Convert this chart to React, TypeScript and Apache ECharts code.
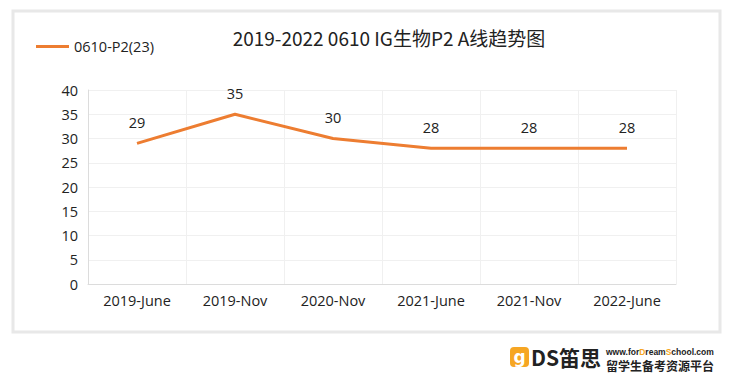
import React, { useEffect, useRef } from "react";
import * as echarts from "echarts";

const categories = ["2019-June", "2019-Nov", "2020-Nov", "2021-June", "2021-Nov", "2022-June"];
const seriesName = "0610-P2(23)";
const values = [29, 35, 30, 28, 28, 28];
const titleText = "2019-2022 0610 IG生物P2 A线趋势图";

export default function App() {
  const ref = useRef<HTMLDivElement>(null);
  useEffect(() => {
    document.body.style.margin = "0";
    const chart = echarts.init(ref.current!, null, { renderer: "svg" });
    const font = "'Open Sans', 'Noto Sans', sans-serif";
    chart.setOption({
      animation: false,
      backgroundColor: "#ffffff",
      title: {
        text: titleText,
        left: 384,
        top: 23,
        textAlign: "center",
        textStyle: { fontSize: 19, fontWeight: "normal", color: "#222", fontFamily: "'Noto Sans CJK SC', sans-serif" },
      },
      legend: {
        left: 31,
        top: 34,
        itemWidth: 33,
        itemHeight: 3,
        icon: "rect",
        itemGap: 6,
        itemStyle: { color: "#ED7D31", opacity: 1 },
        textStyle: { fontSize: 14.5, color: "#222", fontFamily: font },
        data: [seriesName],
      },
      grid: { left: 88, right: 745 - 676, top: 90, bottom: 379 - 284 },
      xAxis: {
        type: "category",
        data: categories,
        boundaryGap: true,
        axisLine: { show: true, lineStyle: { color: "#dcdcdc", width: 1 } },
        axisTick: { show: false },
        splitLine: { show: true, lineStyle: { color: "#f0f0f0" } },
        axisLabel: { fontSize: 14.5, color: "#222", margin: 9, fontFamily: font },
      },
      yAxis: {
        type: "value",
        min: 0,
        max: 40,
        interval: 5,
        axisLine: { show: true, lineStyle: { color: "#dcdcdc", width: 1 } },
        axisTick: { show: false },
        splitLine: { show: true, lineStyle: { color: "#f0f0f0" } },
        axisLabel: { fontSize: 14.5, color: "#222", margin: 10, fontFamily: font },
      },
      series: [
        {
          name: seriesName,
          type: "line",
          data: values,
          showSymbol: true,
          symbol: "circle",
          symbolSize: 1,
          lineStyle: { color: "#ED7D31", width: 3 },
          itemStyle: { color: "#ED7D31", opacity: 0 },
          label: {
            show: true,
            position: "top",
            distance: 13,
            fontSize: 14.5,
            color: "#222",
            opacity: 1,
            fontFamily: font,
          },
        },
      ],
      graphic: [
        {
          type: "rect",
          z: -10,
          shape: { x: 13, y: 11, width: 707, height: 321 },
          style: { fill: "#ffffff", stroke: "#e8e8e8", lineWidth: 3 },
        },
        {
          type: "rect",
          shape: { x: 510, y: 347, width: 19, height: 20, r: 4 },
          style: { fill: "#F6A623" },
        },
        {
          type: "text",
          x: 519.5,
          y: 356.5,
          style: { text: "g", fill: "#fff", fontSize: 17, fontWeight: "bold", align: "center", verticalAlign: "middle", fontFamily: "'DejaVu Sans', sans-serif" },
        },
        {
          type: "text",
          x: 531,
          y: 357,
          style: { text: "DS笛思", fill: "#222", fontSize: 21, fontWeight: "bold", verticalAlign: "middle", fontFamily: "'Noto Sans CJK SC', sans-serif" },
        },
        {
          type: "text",
          x: 606,
          y: 352,
          style: {
            text: "{a|www.for}{b|D}{a|ream}{b|S}{a|chool.com}",
            verticalAlign: "middle",
            rich: {
              a: { fontSize: 8.5, fontWeight: "bold", fill: "#222", fontFamily: "'Liberation Sans', sans-serif" },
              b: { fontSize: 8.5, fontWeight: "bold", fill: "#F6A623", fontFamily: "'Liberation Sans', sans-serif" },
            },
          },
        },
        {
          type: "text",
          x: 606,
          y: 365,
          style: { text: "留学生备考资源平台", fill: "#222", fontSize: 12, fontWeight: "bold", verticalAlign: "middle", fontFamily: "'Noto Sans CJK SC', sans-serif" },
        },
      ],
    });
    return () => chart.dispose();
  }, []);
  return <div ref={ref} style={{ position: "absolute", left: 0, top: 0, width: 745, height: 379 }} />;
}
